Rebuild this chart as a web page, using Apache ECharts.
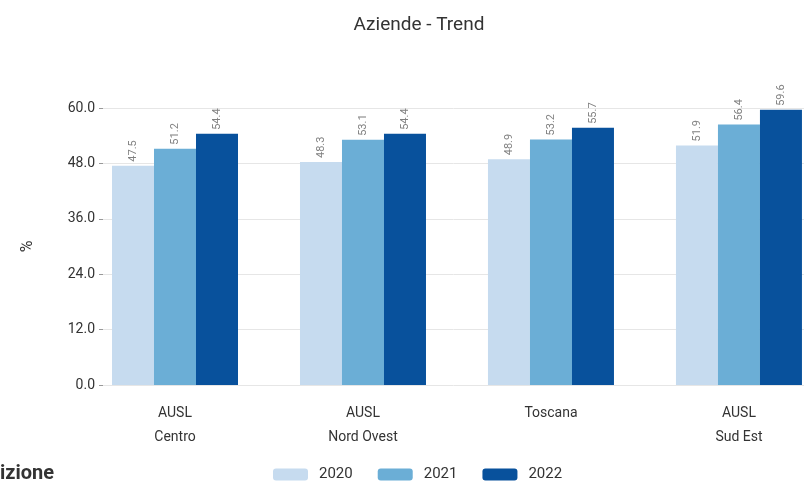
<!DOCTYPE html>
<html>
<head>
<meta charset="utf-8">
<script src="https://cdn.jsdelivr.net/npm/echarts@6/dist/echarts.min.js"></script>
<style>
  html, body { margin: 0; padding: 0; background: #fff; }
  #chart { width: 804px; height: 483px; }
</style>
</head>
<body>
<div id="chart"></div>
<script>
const categories = ['AUSL\nCentro', 'AUSL\nNord Ovest', 'Toscana', 'AUSL\nSud Est']
const years = ['2020', '2021', '2022']
const values2020 = [47.5, 48.3, 48.9, 51.9]
const values2021 = [51.2, 53.1, 53.2, 56.4]
const values2022 = [54.4, 54.4, 55.7, 59.6]
const yTicks = [0, 12, 24, 36, 48, 60]

const colors = ['#c6dbef', '#6baed6', '#08519c']
const font = 'Roboto, sans-serif'

const chart = echarts.init(document.getElementById('chart'))

const makeSeries = (name, vals, color) => ({
  name: name,
  type: 'bar',
  barWidth: 42,
  barGap: '0%',
  itemStyle: { color: color },
  label: {
    show: true,
    position: 'top',
    rotate: 90,
    align: 'left',
    verticalAlign: 'middle',
    distance: 4,
    color: '#808080',
    fontSize: 11,
    fontFamily: font,
    formatter: p => p.value[1].toFixed(1)
  },
  data: vals.map((v, i) => [i, v])
})

const option = {
  animation: false,
  title: {
    text: 'Aziende - Trend',
    left: 414,
    textAlign: 'center',
    top: 11,
    textStyle: { fontSize: 19, fontWeight: 'normal', color: '#333', fontFamily: font }
  },
  legend: {
    data: years,
    left: 268,
    top: 462,
    itemWidth: 35,
    itemHeight: 12,
    itemGap: 25,
    textStyle: { fontSize: 15, color: '#333', fontFamily: font, padding: [0, 0, 0, 6] }
  },
  graphic: [{
    type: 'text',
    left: 0,
    top: 464,
    style: { text: 'izione', fontSize: 20, fontWeight: 'bold', fill: '#333', fontFamily: font }
  }],
  grid: { left: 103, right: 0, top: 108, bottom: 98 },
  xAxis: {
    type: 'value',
    min: -0.383,
    max: 3.346,
    axisLine: { show: false, onZero: false },
    axisTick: { show: false },
    splitLine: { show: false },
    axisLabel: {
      customValues: [0, 1, 2, 3],
      formatter: v => categories[Math.round(v)],
      color: '#333',
      fontSize: 14,
      lineHeight: 24,
      margin: 16,
      fontFamily: font
    }
  },
  yAxis: {
    type: 'value',
    min: 0,
    max: 60,
    interval: 12,
    name: '%',
    nameLocation: 'middle',
    nameGap: 67,
    nameTextStyle: { fontSize: 16, color: '#333', fontFamily: font },
    axisLine: { show: false, onZero: false },
    axisTick: { show: true, length: 4, lineStyle: { color: '#999' } },
    splitLine: { lineStyle: { color: '#e6e6e6' } },
    axisLabel: {
      color: '#333',
      fontSize: 14,
      margin: 8,
      fontFamily: font,
      formatter: v => v.toFixed(1)
    }
  },
  series: [
    makeSeries(years[0], values2020, colors[0]),
    makeSeries(years[1], values2021, colors[1]),
    makeSeries(years[2], values2022, colors[2])
  ]
}

chart.setOption(option)
</script>
</body>
</html>
